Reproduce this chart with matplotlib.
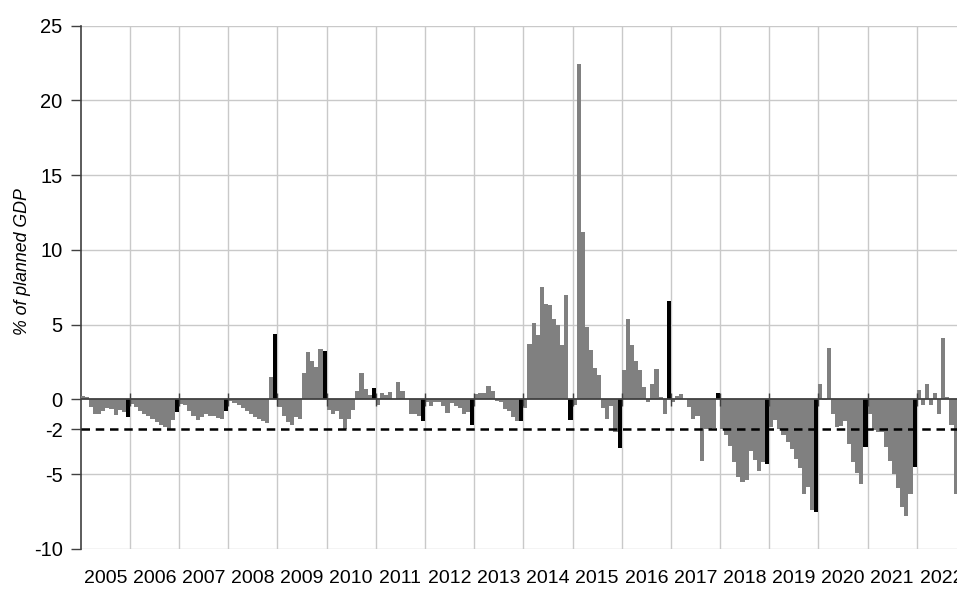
import matplotlib
matplotlib.use("Agg")
import matplotlib.pyplot as plt
import numpy as np

# ---- data: monthly balance, % of planned GDP (Dec = year-end, black) ----
years = list(range(2005, 2023))
y2005 = [0.2, 0.15, -0.5, -0.95, -1.0, -0.8, -0.6, -0.65, -1.05, -0.7, -0.85, -1.2]
y2006 = [-0.3, -0.5, -0.75, -1.0, -1.1, -1.3, -1.5, -1.7, -1.85, -2.0, -1.35, -0.85]
y2007 = [-0.3, -0.4, -0.8, -1.1, -1.4, -1.2, -1.0, -1.1, -1.1, -1.25, -1.3, -0.8]
y2008 = [-0.1, -0.25, -0.4, -0.6, -0.8, -1.0, -1.15, -1.3, -1.45, -1.55, 1.5, 4.35]
y2009 = [-0.5, -1.1, -1.5, -1.7, -1.2, -1.3, 1.75, 3.2, 2.6, 2.2, 3.4, 3.25]
y2010 = [-0.7, -1.0, -0.75, -1.3, -2.0, -1.3, -0.7, 0.55, 1.8, 0.7, 0.3, 0.75]
y2011 = [-0.35, 0.4, 0.3, 0.5, 0.05, 1.15, 0.55, 0.0, -1.0, -1.0, -1.1, -1.45]
y2012 = [-0.2, -0.45, -0.15, -0.2, -0.45, -0.9, -0.25, -0.45, -0.55, -1.0, -0.85, -1.7]
y2013 = [0.35, 0.4, 0.45, 0.9, 0.55, -0.1, -0.15, -0.65, -0.8, -1.15, -1.45, -1.45]
y2014 = [-0.55, 3.7, 5.1, 4.3, 7.55, 6.4, 6.3, 5.4, 4.95, 3.65, 6.95, -1.4]
y2015 = [-0.4, 22.45, 11.2, 4.85, 3.3, 2.1, 1.65, -0.6, -1.3, -0.45, -2.2, -3.25]
y2016 = [2.0, 5.4, 3.65, 2.6, 1.95, 0.85, -0.2, 1.0, 2.05, 0.15, -1.0, 6.6]
y2017 = [-0.15, 0.2, 0.35, 0.0, -0.5, -1.3, -1.1, -4.1, -1.95, -1.95, -1.9, 0.4]
y2018 = [-2.0, -2.4, -3.1, -4.2, -5.2, -5.55, -5.4, -3.45, -4.05, -4.8, -4.2, -4.3]
y2019 = [-1.85, -1.4, -1.95, -2.4, -2.85, -3.3, -3.95, -4.6, -6.35, -5.85, -7.4, -7.55]
y2020 = [1.05, -0.05, 3.45, -0.95, -1.85, -1.8, -1.45, -2.95, -4.2, -4.95, -5.65, -3.2]
y2021 = [-0.95, -2.05, -2.15, -2.15, -3.2, -4.1, -5.0, -5.95, -7.2, -7.8, -6.3, -4.5]
y2022 = [0.6, -0.35, 1.05, -0.35, 0.4, -0.95, 4.1, 0.15, -1.7, -6.3]
threshold = -2
y_ticks = [-10, -5, -2, 0, 5, 10, 15, 20, 25]
grid_levels = [-10, -5, 5, 10, 15, 20, 25]
ylabel = "% of planned GDP"

values = (y2005 + y2006 + y2007 + y2008 + y2009 + y2010 + y2011 + y2012 + y2013
          + y2014 + y2015 + y2016 + y2017 + y2018 + y2019 + y2020 + y2021 + y2022)
n = len(values)
xpos = np.arange(n) + 0.5
colors = ['#000000' if i % 12 == 11 else '#808080' for i in range(n)]

W, H = 957, 590
fig = plt.figure(figsize=(W / 100, H / 100), dpi=100)
left_px, right_px = 80.8, 80.8 + 18 * 49.17
top_px, bot_px = 25.5, 549.0
ax = fig.add_axes([left_px / W, 1 - bot_px / H, (right_px - left_px) / W, (bot_px - top_px) / H])

nyears = len(years)
ax.set_xlim(0, 12 * nyears)
ax.set_ylim(-10, 25)

for lv in grid_levels:
    ax.axhline(lv, color='#c9c9c9', lw=1.0, zorder=1)
for k in range(1, nyears):
    ax.axvline(12 * k, color='#c9c9c9', lw=1.0, zorder=1)

ax.bar(xpos, values, width=1.0, color=colors, linewidth=0, zorder=3)

ax.axhline(0, color='#404040', lw=1.3, zorder=4)
ax.vlines([12 * k for k in range(1, nyears + 1)], -0.45, 0.45, color='#404040', lw=1.0, zorder=4)
ax.axhline(threshold, color='black', lw=1.8, ls=(0, (3.4, 2.3)), zorder=5)

for s in ['top', 'right', 'bottom']:
    ax.spines[s].set_visible(False)
ax.spines['left'].set_color('#404040')
ax.spines['left'].set_linewidth(1.2)

font = ['Liberation Sans Narrow', 'Liberation Sans', 'DejaVu Sans']
ax.set_yticks(y_ticks)
ax.set_yticklabels([str(t) for t in y_ticks], family=font, fontsize=14.5)
ax.tick_params(axis='y', direction='out', length=7, width=1.0, color='#404040', pad=6)

ax.set_xticks([12 * k + 6 for k in range(nyears)])
ax.set_xticklabels([str(y) for y in years], family=font, fontsize=14)
ax.tick_params(axis='x', length=0, pad=15)

fig.text(23 / W, 1 - 262 / H, ylabel, rotation=90, ha='center', va='center',
         fontsize=12.8, style='italic', family=['Liberation Sans', 'DejaVu Sans'])

fig.savefig('out.png', dpi=100)
